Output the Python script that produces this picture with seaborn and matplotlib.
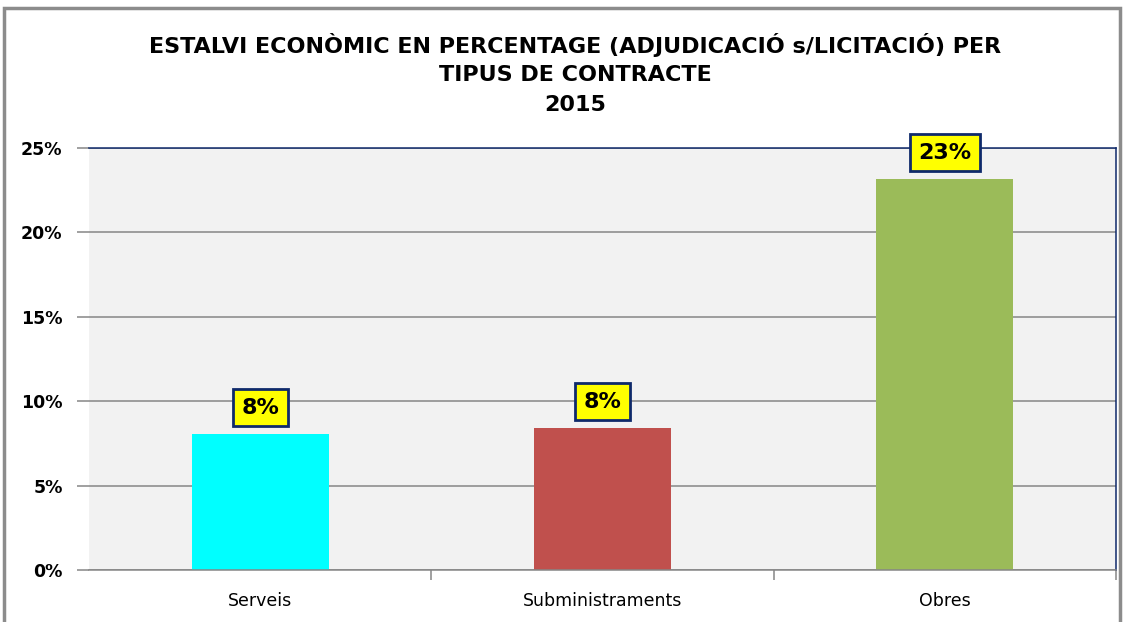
import matplotlib
matplotlib.use("Agg")
import matplotlib.pyplot as plt
import seaborn as sns
import pandas as pd
from matplotlib.patches import Rectangle
from matplotlib.ticker import FuncFormatter

categories = ["Serveis", "Subministraments", "Obres"]
values = [8.06, 8.41, 23.16]
labels = ["8%", "8%", "23%"]
colors = ["#00FFFF", "#C0504D", "#9BBB59"]
yticks = [0, 5, 10, 15, 20, 25]

sns.set_theme(style="white")
plt.rcParams['font.family'] = ['DejaVu Sans']
plt.rcParams['text.color'] = 'black'
plt.rcParams['xtick.color'] = 'black'
plt.rcParams['ytick.color'] = 'black'

W, H = 1131, 622
fig = plt.figure(figsize=(W / 100, H / 100), dpi=100)
ax = fig.add_axes([89 / W, 1 - 570 / H, (1116 - 89) / W, (570 - 148) / H])

df = pd.DataFrame({"cat": categories, "val": values})
sns.barplot(data=df, x="cat", y="val", hue="cat", palette=colors, width=0.4,
            legend=False, ax=ax, saturation=1, linewidth=0, edgecolor="none")
ax.set_xlim(-0.5, 2.5)
ax.set_ylim(0, 25)
ax.set_facecolor("#F2F2F2")
ax.set_yticks(yticks)
ax.yaxis.set_major_formatter(FuncFormatter(lambda v, p: f"{int(v)}%"))
ax.grid(axis="y", color="#868686", linewidth=1.1)
ax.set_axisbelow(True)
ax.set_xlabel("")
ax.set_ylabel("")
ax.spines["left"].set_visible(False)
ax.spines["top"].set_color("#0F2A6B")
ax.spines["right"].set_color("#0F2A6B")
ax.spines["bottom"].set_color("#868686")
for s in ["top", "right", "bottom"]:
    ax.spines[s].set_linewidth(1.1)

ax.tick_params(axis="y", which="both", left=True, length=9, width=1.1, color="#868686",
               labelcolor="black", pad=10, labelsize=12.5)
for t in ax.get_yticklabels():
    t.set_fontweight("bold")
ax.tick_params(axis="x", bottom=False, labelsize=12.5, pad=10, labelcolor="black")
ax.set_xticks([0.5, 1.5, 2.5], minor=True)
ax.tick_params(axis="x", which="minor", bottom=True, length=7, width=1.1, color="#868686")

for i, (v, lab) in enumerate(zip(values, labels)):
    ax.annotate(lab, (i, v), xytext=(0, 19), textcoords="offset points",
                ha="center", va="center", fontsize=16, fontweight="bold", color="black",
                bbox=dict(boxstyle="square,pad=0.38", fc="#FFFF00", ec="#0F2A6B", lw=2))

title_font = ["Liberation Sans Narrow", "DejaVu Sans"]
fig.text(575 / W, 1 - 45 / H, "ESTALVI ECONÒMIC EN PERCENTAGE (ADJUDICACIÓ s/LICITACIÓ) PER",
         ha="center", va="center", fontsize=16, fontweight="bold", family=title_font)
fig.text(575 / W, 1 - 75 / H, "TIPUS DE CONTRACTE", ha="center", va="center", fontsize=16,
         fontweight="bold", family=title_font)
fig.text(575 / W, 1 - 105 / H, "2015", ha="center", va="center", fontsize=16,
         fontweight="bold", family=title_font)

fig.patches.append(Rectangle((4 / W, -0.01), (1120 - 4) / W, 1 - 8 / H + 0.01,
                             transform=fig.transFigure, fill=False, ec="#8C8C8C", lw=2.5))

fig.savefig("out.png", dpi=100)
